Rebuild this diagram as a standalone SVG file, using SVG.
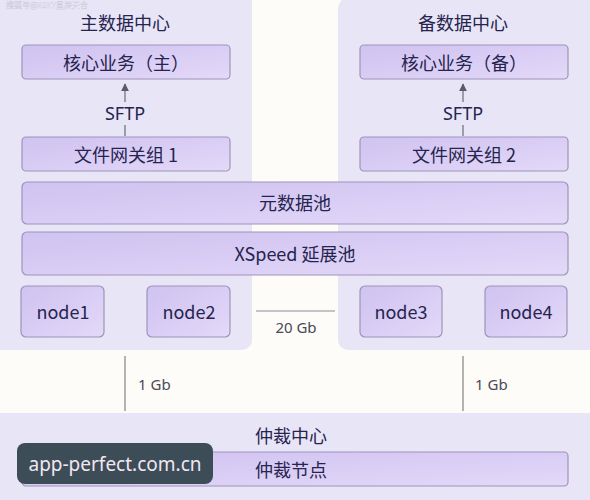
<svg xmlns="http://www.w3.org/2000/svg" width="590" height="500" viewBox="0 0 590 500">
<defs>
<linearGradient id="boxg" x1="0" y1="0" x2="1" y2="1">
<stop offset="0" stop-color="#cfc3f0"/>
<stop offset="0.5" stop-color="#d9cdf5"/>
<stop offset="1" stop-color="#e3d9f7"/>
</linearGradient>
<marker id="arr" viewBox="0 0 10 10" refX="9" refY="5" markerWidth="8" markerHeight="8" orient="auto-start-reverse" markerUnits="userSpaceOnUse">
<path d="M0,0 L10,5 L0,10 z" fill="#5a5a6a"/>
</marker>
<style>
.panel{fill:#e8e5f7}
.box{fill:url(#boxg);stroke:#9d94ba;stroke-width:1.2}
.t{font-family:"Noto Sans CJK SC","Noto Sans",sans-serif;font-size:18px;fill:#26244e;text-anchor:middle;dominant-baseline:central}
.title{font-size:18px}
.sftp{font-family:"Noto Sans",sans-serif;font-size:18px}
.lbl{font-family:"Noto Sans","Noto Sans CJK SC",sans-serif;font-size:15px;fill:#4a4a55}
.ln{stroke:#6a6a78;stroke-width:1.2;fill:none}
</style>
</defs>
<rect width="590" height="500" fill="#fdfcf8"/>

<g id="panel-main">
<rect class="panel" x="-10" y="-10" width="262" height="360" rx="10"/>
<text class="t title" x="125" y="22">主数据中心</text>
</g>
<g id="panel-backup">
<rect class="panel" x="338" y="-2" width="262" height="352" rx="10"/>
<text class="t title" x="463" y="22">备数据中心</text>
</g>
<g id="panel-arbiter">
<rect class="panel" x="-10" y="413" width="610" height="100" rx="10"/>
<text class="t title" x="291" y="435">仲裁中心</text>
</g>

<g id="core-main"><rect class="box" x="22" y="45" width="208" height="34" rx="4"/><text class="t" x="126" y="62">核心业务（主）</text></g>
<g id="core-backup"><rect class="box" x="360" y="45" width="208" height="34" rx="4"/><text class="t" x="464" y="62">核心业务（备）</text></g>
<g id="gw1"><rect class="box" x="22" y="137" width="208" height="34" rx="4"/><text class="t" x="126" y="154">文件网关组 1</text></g>
<g id="gw2"><rect class="box" x="360" y="137" width="208" height="34" rx="4"/><text class="t" x="464" y="154">文件网关组 2</text></g>
<g id="meta"><rect class="box" x="22" y="182" width="546" height="42" rx="5"/><text class="t" x="295" y="202">元数据池</text></g>
<g id="xspeed"><rect class="box" x="22" y="232" width="546" height="43" rx="5"/><text class="t" x="295" y="253">XSpeed 延展池</text></g>
<g id="node1"><rect class="box" x="21" y="286" width="83" height="51" rx="5"/><text class="t" x="63" y="311">node1</text></g>
<g id="node2"><rect class="box" x="147" y="286" width="83" height="51" rx="5"/><text class="t" x="189" y="311">node2</text></g>
<g id="node3"><rect class="box" x="360" y="286" width="82" height="51" rx="5"/><text class="t" x="401" y="311">node3</text></g>
<g id="node4"><rect class="box" x="485" y="286" width="82" height="51" rx="5"/><text class="t" x="526" y="311">node4</text></g>
<g id="arbiter-node"><rect class="box" x="22" y="452" width="546" height="34" rx="4"/><text class="t" x="291" y="469">仲裁节点</text></g>

<g id="connectors">
<line class="ln" x1="125" y1="102" x2="125" y2="84" marker-end="url(#arr)"/>
<line class="ln" x1="125" y1="125" x2="125" y2="136"/>
<text class="t sftp" x="125" y="113">SFTP</text>
<line class="ln" x1="463" y1="102" x2="463" y2="84" marker-end="url(#arr)"/>
<line class="ln" x1="463" y1="125" x2="463" y2="136"/>
<text class="t sftp" x="463" y="113">SFTP</text>
<line x1="256" y1="311" x2="335" y2="311" stroke="#8a8a98" stroke-width="1"/>
<text class="lbl" x="296" y="333" text-anchor="middle">20 Gb</text>
<line x1="125" y1="356" x2="125" y2="411" stroke="#6a6a70" stroke-width="1"/>
<text class="lbl" x="138" y="390">1 Gb</text>
<line x1="463" y1="356" x2="463" y2="411" stroke="#6a6a70" stroke-width="1"/>
<text class="lbl" x="475" y="390">1 Gb</text>
</g>

<text x="6" y="8" font-family="'Noto Sans CJK SC',sans-serif" font-size="8" fill="#ffffff" fill-opacity="0.8" stroke="#b8b4c8" stroke-width="0.25">搜狐号@XSKY星辰天合</text>
<g id="badge">
<rect x="17" y="443" width="196" height="41" rx="8" fill="#3c4d58"/>
<text x="115" y="464" font-family="'Noto Sans',sans-serif" font-size="19" fill="#f3e6f2" text-anchor="middle" dominant-baseline="central">app-perfect.com.cn</text>
</g>
</svg>
